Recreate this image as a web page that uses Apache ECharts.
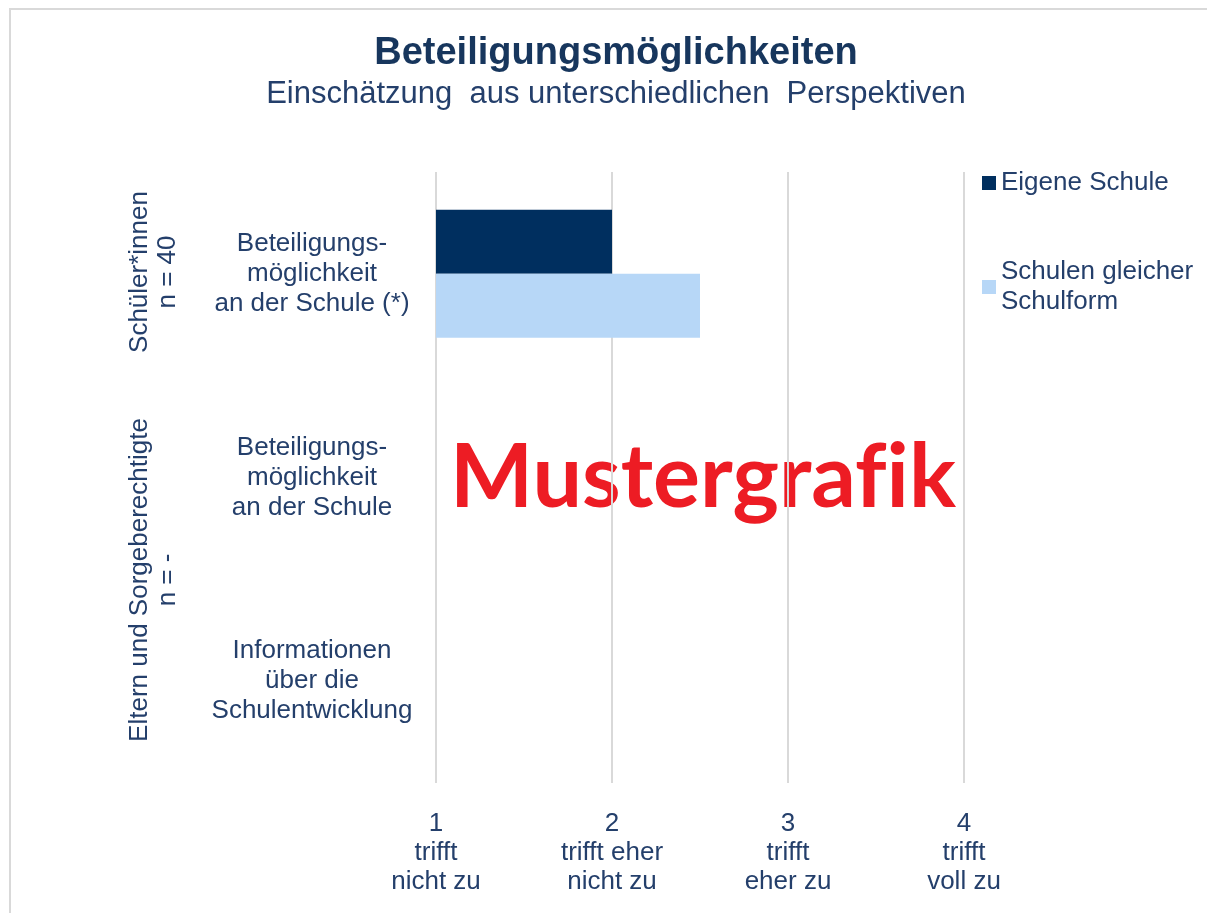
<!DOCTYPE html>
<html>
<head>
<meta charset="utf-8">
<script src="https://cdn.jsdelivr.net/npm/echarts@6/dist/echarts.min.js"></script>
<style>
html,body{margin:0;padding:0;background:#fff;}
#chart{width:1207px;height:913px;}
</style>
</head>
<body>
<div id="chart"></div>
<script>
const categories = [
  'Beteiligungs-\nmöglichkeit\nan der Schule (*)',
  'Beteiligungs-\nmöglichkeit\nan der Schule',
  'Informationen\nüber die\nSchulentwicklung'
];
const seriesNames = ['Eigene Schule', 'Schulen gleicher Schulform'];
const eigeneSchule = [2.0, '-', '-'];
const gleicheSchulform = [2.5, '-', '-'];
const tickLabels = {1: '1\ntrifft\nnicht zu', 2: '2\ntrifft eher\nnicht zu', 3: '3\ntrifft\neher zu', 4: '4\ntrifft\nvoll zu'};
const groupLabels = ['Schüler*innen\nn = 40', 'Eltern und Sorgeberechtigte\nn = -'];

const textColor = '#243F6B';
const font = 'Liberation Sans, Arial, sans-serif';

const chart = echarts.init(document.getElementById('chart'), null, {renderer: 'canvas'});
chart.setOption({
  animation: false,
  backgroundColor: '#fff',
  title: {
    text: 'Beteiligungsmöglichkeiten',
    subtext: 'Einschätzung  aus unterschiedlichen  Perspektiven',
    left: 616,
    textAlign: 'center',
    top: 34,
    padding: 0,
    itemGap: 3,
    textStyle: {fontFamily: font, fontSize: 38, fontWeight: 'bold', color: '#17365D', lineHeight: 40},
    subtextStyle: {fontFamily: font, fontSize: 31, color: textColor, lineHeight: 34}
  },
  legend: [{
    orient: 'vertical',
    left: 977,
    top: 163,
    itemWidth: 14,
    itemHeight: 14,
    icon: 'rect',
    data: [seriesNames[0]],
    textStyle: {fontFamily: font, fontSize: 26, color: textColor, lineHeight: 30}
  }, {
    orient: 'vertical',
    left: 977,
    top: 237,
    itemWidth: 14,
    itemHeight: 14,
    icon: 'rect',
    data: [seriesNames[1]],
    formatter: function (n) { return n.replace('gleicher ', 'gleicher\n'); },
    textStyle: {fontFamily: font, fontSize: 26, color: textColor, lineHeight: 30, padding: [30, 0, 0, 0]}
  }],
  grid: {left: 436, right: 243, top: 172, bottom: 130, containLabel: false},
  xAxis: {
    type: 'value',
    min: 1,
    max: 4,
    interval: 1,
    axisLine: {show: false},
    axisTick: {show: false},
    splitLine: {show: true, lineStyle: {color: '#D9D9D9', width: 2}},
    axisLabel: {
      margin: 26,
      formatter: function (v) { return tickLabels[v] || ''; },
      fontFamily: font, fontSize: 26, color: textColor, lineHeight: 29, align: 'center'
    }
  },
  yAxis: {
    type: 'category',
    inverse: true,
    data: categories,
    axisLine: {show: false},
    axisTick: {show: false},
    splitLine: {show: false},
    axisLabel: {
      margin: 124, align: 'center',
      fontFamily: font, fontSize: 26, color: textColor, lineHeight: 30
    }
  },
  graphic: [
    {type: 'rect', z: -20, shape: {x: 10, y: 9, width: 1300, height: 1000}, style: {fill: 'none', stroke: '#D9D9D9', lineWidth: 2}},
    {type: 'text', z: -10, x: 703, y: 479, style: {text: 'Mustergraf\u200Cik', font: 'bold 88px Lato, sans-serif', fill: '#ED1C24', align: 'center', verticalAlign: 'middle'}},
    {type: 'text', x: 154, y: 272, rotation: Math.PI / 2, style: {text: groupLabels[0], fontFamily: font, fontSize: 26, lineHeight: 28, fill: textColor, align: 'center', verticalAlign: 'middle'}},
    {type: 'text', x: 154, y: 580, rotation: Math.PI / 2, style: {text: groupLabels[1], fontFamily: font, fontSize: 26, lineHeight: 28, fill: textColor, align: 'center', verticalAlign: 'middle'}}
  ],
  series: [{
    name: seriesNames[0], type: 'bar', data: eigeneSchule, barWidth: 64, barGap: '0%',
    itemStyle: {color: '#002F5F'}
  }, {
    name: seriesNames[1], type: 'bar', data: gleicheSchulform, barWidth: 64, barGap: '0%',
    itemStyle: {color: '#B7D7F7'}
  }]
});
</script>
</body>
</html>
